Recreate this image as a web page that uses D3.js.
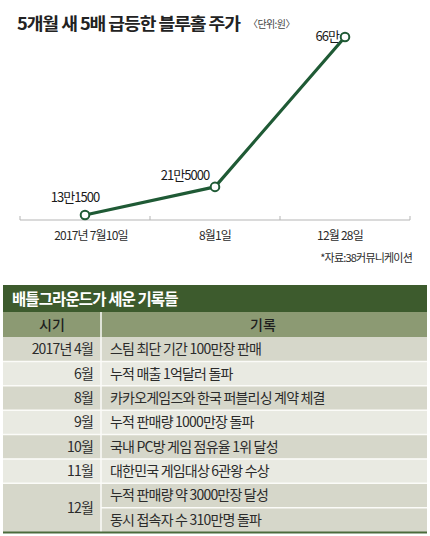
<!DOCTYPE html>
<html><head><meta charset="utf-8">
<script src="https://cdn.jsdelivr.net/npm/d3@7"></script>
<style>
html,body{margin:0;padding:0;background:#fff;}
svg{display:block;font-family:"Noto Sans CJK KR","Noto Sans",sans-serif;}
</style></head>
<body>
<svg id="c" width="430" height="536"></svg>
<script>
// ---- data ----
const dates = ["2017년 7월10일", "8월1일", "12월 28일"];
const prices = [131500, 215000, 660000];
const priceLabels = ["13만1500", "21만5000", "66만"];
const title = "5개월 새 5배 급등한 블루홀 주가";
const unit = "〈단위:원〉";
const source = "*자료:38커뮤니케이션";

const tableTitle = "배틀그라운드가 세운 기록들";
const columns = ["시기", "기록"];
const periods = ["2017년 4월", "6월", "8월", "9월", "10월", "11월", "12월", "12월"];
const records = [
  "스팀 최단 기간 100만장 판매",
  "누적 매출 1억달러 돌파",
  "카카오게임즈와 한국 퍼블리싱 계약 체결",
  "누적 판매량 1000만장 돌파",
  "국내 PC방 게임 점유율 1위 달성",
  "대한민국 게임대상 6관왕 수상",
  "누적 판매량 약 3000만장 달성",
  "동시 접속자 수 310만명 돌파"
];

// ---- drawing ----
const svg = d3.select("#c");
const green = "#1f5a35";
const txt = "#2b2b2b";

svg.append("text").attr("x", 17).attr("y", 30)
  .attr("font-size", 17).attr("font-weight", 700).attr("fill", "#222")
  .attr("letter-spacing", -1).text(title)
  .attr("textLength", 223).attr("lengthAdjust", "spacingAndGlyphs");
svg.append("text").attr("x", 248).attr("y", 28)
  .attr("font-size", 10).attr("fill", "#444").attr("letter-spacing", -0.6).text(unit);

const x = d3.scaleBand().domain(dates).range([20, 410]).padding(0);
const y = d3.scaleLinear().domain([131500, 660000]).range([215, 37]);

// axis
const axisY = 220;
const axis = d3.axisBottom(x).tickSize(0).tickPadding(10);
const ag = svg.append("g").attr("transform", `translate(0,${axisY})`);
ag.append("line").attr("x1", 20).attr("x2", 410).attr("stroke", "#b5b5b5").attr("stroke-width", 1);
const bounds = [x.range()[0]].concat(dates.map(d => x(d) + x.bandwidth()));
ag.selectAll(".tk").data(bounds).join("line").attr("class", "tk")
  .attr("x1", d => d).attr("x2", d => d).attr("y1", -4).attr("y2", 0)
  .attr("stroke", "#b5b5b5");
ag.selectAll(".lb").data(dates).join("text").attr("class", "lb")
  .attr("x", d => x(d) + x.bandwidth() / 2 + (d === dates[0] ? 6 : (d === dates[2] ? -5 : 0)))
  .attr("y", 20).attr("text-anchor", "middle")
  .attr("font-size", 12).attr("fill", txt).attr("letter-spacing", -0.8).text(d => d);

svg.append("text").attr("x", 412).attr("y", 262).attr("text-anchor", "end")
  .attr("font-size", 11).attr("fill", txt).attr("letter-spacing", -0.8).text(source);

const pts = dates.map((d, i) => ({ d, v: prices[i], l: priceLabels[i] }));
const line = d3.line().x(p => x(p.d) + x.bandwidth() / 2).y(p => y(p.v));
svg.append("path").datum(pts).attr("d", line)
  .attr("fill", "none").attr("stroke", green).attr("stroke-width", 3.2)
  .attr("stroke-linejoin", "round");
svg.selectAll(".pt").data(pts).join("circle").attr("class", "pt")
  .attr("cx", p => x(p.d) + x.bandwidth() / 2).attr("cy", p => y(p.v)).attr("r", 4.3)
  .attr("fill", "#fff").attr("stroke", green).attr("stroke-width", 2);

// labels
const lblPos = [
  { dx: -10, dy: -13, a: "middle" },
  { dx: -30, dy: -7, a: "middle" },
  { dx: -6, dy: 4, a: "end" }
];
svg.selectAll(".pl").data(pts).join("text").attr("class", "pl")
  .attr("x", (p, i) => x(p.d) + x.bandwidth() / 2 + lblPos[i].dx)
  .attr("y", (p, i) => y(p.v) + lblPos[i].dy)
  .attr("text-anchor", (p, i) => lblPos[i].a)
  .attr("font-size", 13).attr("fill", "#1a1a1a").attr("letter-spacing", -1)
  .text(p => p.l);

// ---- table ----
const tx0 = 3, tx1 = 427, colX = 101;
svg.append("rect").attr("x", tx0).attr("y", 285).attr("width", tx1 - tx0).attr("height", 27)
  .attr("fill", "#3d5b2d");
svg.append("text").attr("x", 12).attr("y", 305).attr("font-size", 15.5).attr("font-weight", 700)
  .attr("fill", "#fff").attr("letter-spacing", -0.9).text(tableTitle);

svg.append("rect").attr("x", tx0).attr("y", 312).attr("width", tx1 - tx0).attr("height", 25)
  .attr("fill", "#8c9a73");
svg.selectAll(".ch").data(columns).join("text").attr("class", "ch")
  .attr("x", (d, i) => i === 0 ? 52 : 263).attr("y", 330).attr("text-anchor", "middle")
  .attr("font-size", 14).attr("font-weight", 500).attr("fill", "#1e1e1e").text(d => d);

const rowY = d3.scaleBand().domain(d3.range(records.length)).range([337, 532]);
const rh = rowY.bandwidth();
const dark = "#d6d7ca", light = "#e9eae2";
// group index: each distinct period run gets one shade
const groups = [];
periods.forEach((p, i) => { groups.push(i > 0 && periods[i - 1] === p ? groups[i - 1] : (i === 0 ? 0 : groups[i - 1] + 1)); });
const fill = i => groups[i] % 2 === 0 ? dark : light;

// right cells
svg.selectAll(".rc").data(records).join("rect").attr("class", "rc")
  .attr("x", colX).attr("y", (d, i) => rowY(i)).attr("width", tx1 - colX).attr("height", rh)
  .attr("fill", (d, i) => fill(i));
// left cells (merged)
const runs = [];
periods.forEach((p, i) => {
  if (i > 0 && periods[i - 1] === p) runs[runs.length - 1].n++;
  else runs.push({ p, start: i, n: 1 });
});
svg.selectAll(".lc").data(runs).join("rect").attr("class", "lc")
  .attr("x", tx0).attr("y", r => rowY(r.start)).attr("width", colX - tx0).attr("height", r => rh * r.n)
  .attr("fill", r => fill(r.start));
// separators
svg.selectAll(".sepR").data(d3.range(1, records.length)).join("line").attr("class", "sepR")
  .attr("x1", colX).attr("x2", tx1).attr("y1", i => rowY(i)).attr("y2", i => rowY(i))
  .attr("stroke", "#fbfbf8").attr("stroke-width", 1.5);
svg.selectAll(".sepL").data(runs.slice(1)).join("line").attr("class", "sepL")
  .attr("x1", tx0).attr("x2", colX).attr("y1", r => rowY(r.start)).attr("y2", r => rowY(r.start))
  .attr("stroke", "#fbfbf8").attr("stroke-width", 1.5);
svg.append("line").attr("x1", colX).attr("x2", colX).attr("y1", 312).attr("y2", 532)
  .attr("stroke", "#fbfbf8").attr("stroke-width", 1.5);
svg.append("line").attr("x1", tx0).attr("x2", tx1).attr("y1", 532.5).attr("y2", 532.5)
  .attr("stroke", "#4b6b3c").attr("stroke-width", 2);

svg.selectAll(".lt").data(runs).join("text").attr("class", "lt")
  .attr("x", 93).attr("y", r => rowY(r.start) + rh * r.n / 2 + 5).attr("text-anchor", "end")
  .attr("font-size", 14).attr("fill", txt).attr("letter-spacing", -0.8).text(r => r.p);
svg.selectAll(".rt").data(records).join("text").attr("class", "rt")
  .attr("x", 110).attr("y", (d, i) => rowY(i) + rh / 2 + 5)
  .attr("font-size", 14).attr("fill", txt).attr("letter-spacing", -0.8).text(d => d);
</script>
</body></html>
